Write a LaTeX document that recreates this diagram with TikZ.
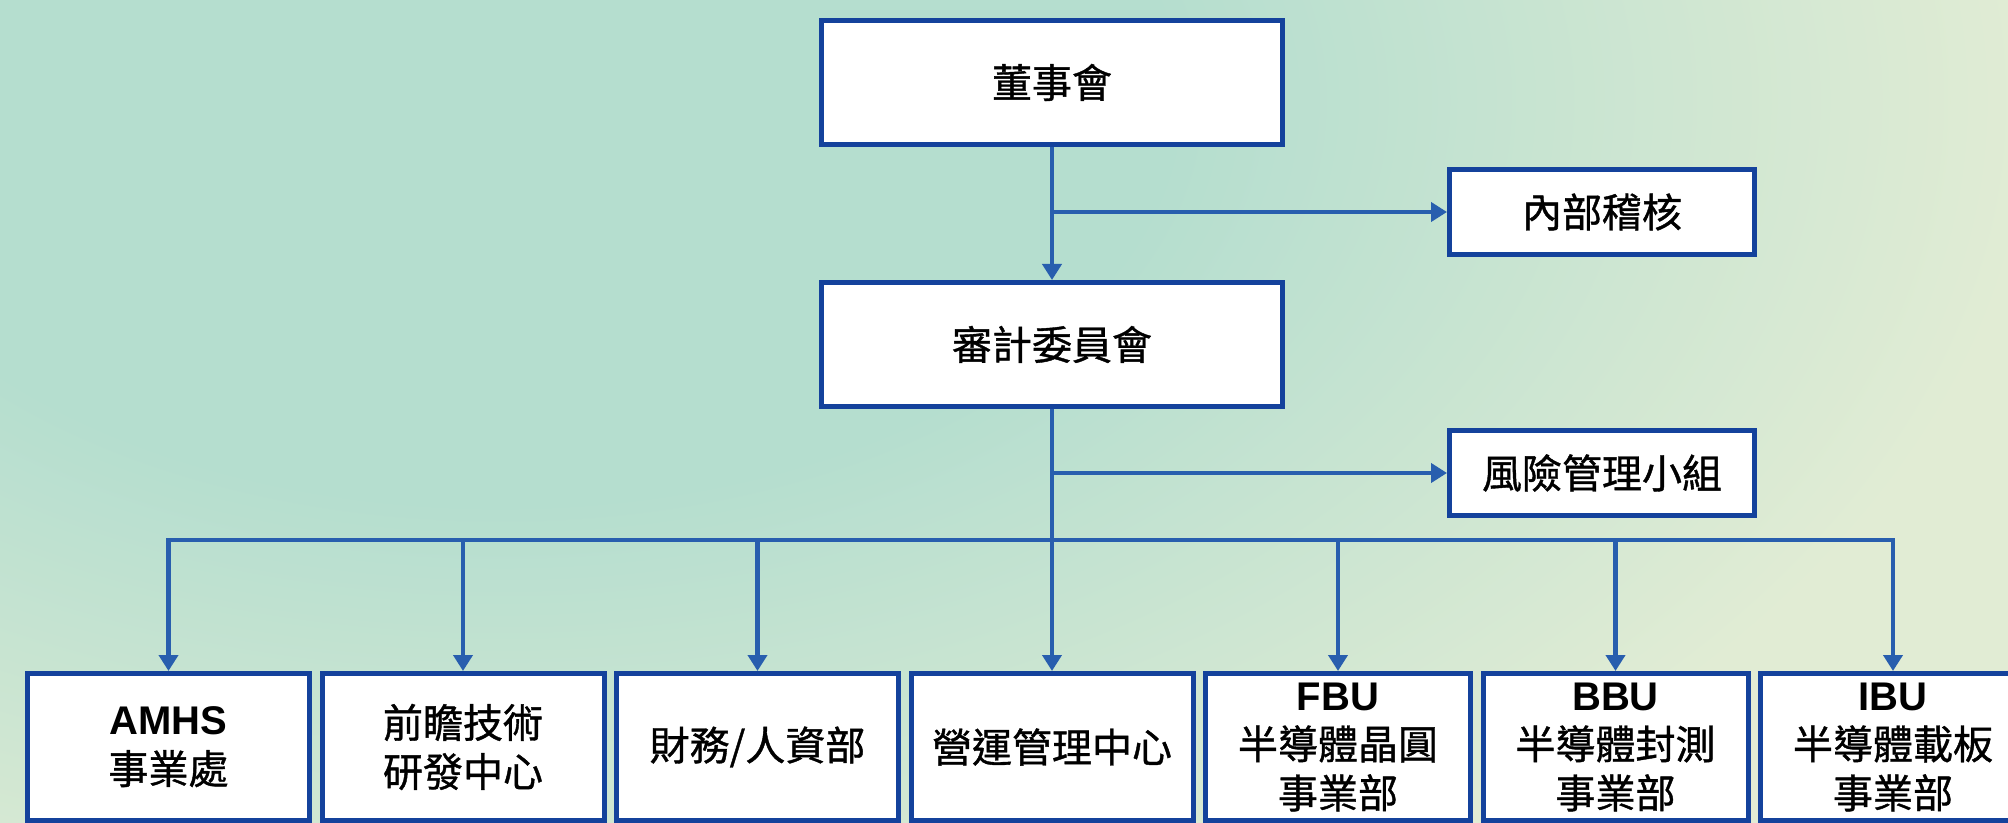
\documentclass[tikz,border=0pt]{standalone}
\usepackage{fontspec}
\setmainfont{Liberation Sans}
\newfontfamily\cjk[FakeBold=1]{Noto Sans CJK TC}
\usepackage{xcolor}
\usetikzlibrary{arrows.meta, positioning, calc}
\definecolor{boxblue}{RGB}{20,66,156}
\definecolor{lineblue}{RGB}{40,94,174}
\definecolor{mintbg}{RGB}{181,222,207}
\definecolor{creambg}{RGB}{225,236,212}
\pgfdeclareradialshading{bgglow}{\pgfpoint{0bp}{0bp}}{color(0bp)=(mintbg); color(7bp)=(mintbg); color(16bp)=(creambg); color(50bp)=(creambg)}
\newcommand{\enb}[1]{{\rmfamily\bfseries #1}}
\tikzset{
	box/.style={rectangle, draw=boxblue, fill=white, line width=2.5pt, align=center, font=\cjk\fontsize{20pt}{24.5pt}\selectfont},
	line/.style={draw=lineblue, line width=2.3pt},
	arr/.style={line, -{Triangle[length=8pt, width=9.5pt]}}
}

\begin{document}
\begin{tikzpicture}[
	node distance = 3.75pt,
	% Styles
	topbox/.style = {box, minimum width=230.5pt, minimum height=62pt},
	sidebox/.style = {box, minimum width=152.5pt, minimum height=42.5pt},
	dept/.style = {box, minimum width=#1, minimum height=73.5pt, inner sep=0pt}
	]
	
	% Background
	\useasboundingbox (0,0) rectangle (1004pt,-411.5pt);
	\begin{scope}
		\clip (0,0) rectangle (1004pt,-411.5pt);
		\shade[shading=bgglow] (250pt,-50pt) ellipse (1200pt and 720pt);
	\end{scope}
	
	% Main column
	\node[topbox] (board) at (526pt,-41.25pt) {董事會};
	\node[topbox, below=66.5pt of board] (audit) {審計委員會};
	
	% Side boxes off the trunk
	\coordinate (t1) at ($(board.south)+(0,-32.5pt)$);
	\node[sidebox, right=197.5pt of t1] (internal) {內部稽核};
	\coordinate (t2) at ($(audit.south)+(0,-32pt)$);
	\node[sidebox, right=197.5pt of t2] (risk) {風險管理小組};
	\coordinate (bus) at ($(audit.south)+(0,-65.5pt)$);
	
	% Bottom row, built out from the centre box
	\node[dept=141pt, below=131pt of audit] (ops) {營運管理中心};
	\node[dept=141pt, left=of ops] (fin) {財務/人資部};
	\node[dept=141pt, left=of fin] (rd) {前瞻技術\\研發中心};
	\node[dept=141pt, left=of rd] (amhs) {\enb{AMHS}\\事業處};
	\node[dept=132.5pt, right=of ops] (fbu) {\enb{FBU}\\半導體晶圓\\事業部};
	\node[dept=132.5pt, right=of fbu] (bbu) {\enb{BBU}\\半導體封測\\事業部};
	\node[dept=132.5pt, right=of bbu] (ibu) {\enb{IBU}\\半導體載板\\事業部};
	
	% Paths
	\draw[arr] (board) -- (audit);
	\draw[arr] (t1) -- (internal);
	\draw[arr] (t2) -- (risk);
	\draw[arr] (audit) -- (ops);
	\draw[line, line cap=rect] (amhs.north |- bus) -- (ibu.north |- bus);
	\foreach \d in {amhs, rd, fin, fbu, bbu, ibu}
		\draw[arr] (\d.north |- bus) -- (\d.north);
	
\end{tikzpicture}
\end{document}
